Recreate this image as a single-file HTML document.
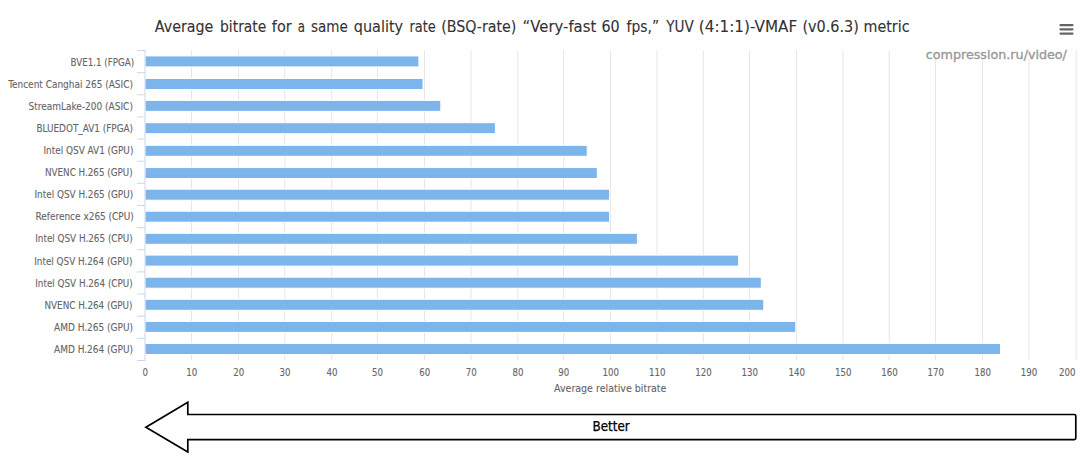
<!DOCTYPE html>
<html><head><meta charset="utf-8"><title>Average bitrate chart</title>
<style>
html,body{margin:0;padding:0;background:#fff;width:1080px;height:456px;overflow:hidden}
svg{display:block}
.cl{font-family:"DejaVu Sans Condensed","DejaVu Sans",sans-serif;font-stretch:condensed;font-size:9.9px;fill:#666;stroke:#666;stroke-width:0.1px}
.xl{font-family:"DejaVu Sans Condensed","DejaVu Sans",sans-serif;font-stretch:condensed;font-size:9.6px;fill:#666;stroke:#666;stroke-width:0.1px}
.xt{font-family:"DejaVu Sans",sans-serif;font-size:9.7px;fill:#666;stroke:#666;stroke-width:0.1px}
.tt{font-family:"DejaVu Sans",sans-serif;font-size:15.0px;fill:#333;stroke:#333;stroke-width:0.1px}
.cr{font-family:"DejaVu Sans",sans-serif;font-size:12.8px;fill:#999;stroke:#999;stroke-width:0.35px}
.bt{font-family:"DejaVu Sans Condensed","DejaVu Sans",sans-serif;font-stretch:condensed;font-size:13.5px;fill:#000;stroke:#000;stroke-width:0.25px}
</style></head>
<body><svg width="1080" height="456" viewBox="0 0 1080 456">
<path d="M191.50 50.5V360 M238.50 50.5V360 M284.80 50.5V360 M331.70 50.5V360 M377.40 50.5V360 M424.50 50.5V360 M471.00 50.5V360 M517.80 50.5V360 M563.60 50.5V360 M610.50 50.5V360 M657.00 50.5V360 M703.30 50.5V360 M749.50 50.5V360 M796.60 50.5V360 M843.00 50.5V360 M889.20 50.5V360 M935.50 50.5V360 M982.50 50.5V360 M1028.90 50.5V360 M1076.20 50.5V360" stroke="#e6e6e6" stroke-width="1" fill="none"/>
<rect x="145" y="55.90" width="273.9" height="11" fill="#7cb5ec" stroke="#fff" stroke-width="1"/>
<rect x="145" y="78.50" width="278.0" height="11" fill="#7cb5ec" stroke="#fff" stroke-width="1"/>
<rect x="145" y="100.40" width="295.8" height="11" fill="#7cb5ec" stroke="#fff" stroke-width="1"/>
<rect x="145" y="122.70" width="350.4" height="11" fill="#7cb5ec" stroke="#fff" stroke-width="1"/>
<rect x="145" y="145.30" width="442.2" height="11" fill="#7cb5ec" stroke="#fff" stroke-width="1"/>
<rect x="145" y="167.55" width="452.3" height="11" fill="#7cb5ec" stroke="#fff" stroke-width="1"/>
<rect x="145" y="189.20" width="464.6" height="11" fill="#7cb5ec" stroke="#fff" stroke-width="1"/>
<rect x="145" y="211.20" width="464.6" height="11" fill="#7cb5ec" stroke="#fff" stroke-width="1"/>
<rect x="145" y="233.30" width="492.4" height="11" fill="#7cb5ec" stroke="#fff" stroke-width="1"/>
<rect x="145" y="255.10" width="593.6" height="11" fill="#7cb5ec" stroke="#fff" stroke-width="1"/>
<rect x="145" y="277.20" width="616.3" height="11" fill="#7cb5ec" stroke="#fff" stroke-width="1"/>
<rect x="145" y="299.30" width="618.8" height="11" fill="#7cb5ec" stroke="#fff" stroke-width="1"/>
<rect x="145" y="321.40" width="650.8" height="11" fill="#7cb5ec" stroke="#fff" stroke-width="1"/>
<rect x="145" y="343.50" width="855.5" height="11" fill="#7cb5ec" stroke="#fff" stroke-width="1"/>
<path d="M145 50.0V361.002 M137 50.50H145 M137 72.64H145 M137 94.79H145 M137 116.93H145 M137 139.07H145 M137 161.22H145 M137 183.36H145 M137 205.50H145 M137 227.64H145 M137 249.79H145 M137 271.93H145 M137 294.07H145 M137 316.22H145 M137 338.36H145 M137 360.50H145" stroke="#ccd6eb" stroke-width="1" fill="none"/>
<g class="cl"><text x="70.5" y="65.60" textLength="63.59" lengthAdjust="spacingAndGlyphs">BVE1.1 (FPGA)</text><text x="8.24" y="87.70" textLength="124.67" lengthAdjust="spacingAndGlyphs">Tencent Canghai 265 (ASIC)</text><text x="28.48" y="109.80" textLength="104.44" lengthAdjust="spacingAndGlyphs">StreamLake-200 (ASIC)</text><text x="36.5" y="131.90" textLength="96.52" lengthAdjust="spacingAndGlyphs">BLUEDOT_AV1 (FPGA)</text><text x="43.48" y="154.00" textLength="89.9" lengthAdjust="spacingAndGlyphs">Intel QSV AV1 (GPU)</text><text x="45.0" y="176.10" textLength="87.6" lengthAdjust="spacingAndGlyphs">NVENC H.265 (GPU)</text><text x="34.5" y="198.20" textLength="98.62" lengthAdjust="spacingAndGlyphs">Intel QSV H.265 (GPU)</text><text x="35.5" y="220.30" textLength="98.33" lengthAdjust="spacingAndGlyphs">Reference x265 (CPU)</text><text x="35.22" y="242.40" textLength="97.52" lengthAdjust="spacingAndGlyphs">Intel QSV H.265 (CPU)</text><text x="34.22" y="264.50" textLength="98.21" lengthAdjust="spacingAndGlyphs">Intel QSV H.264 (GPU)</text><text x="35.22" y="286.60" textLength="97.52" lengthAdjust="spacingAndGlyphs">Intel QSV H.264 (CPU)</text><text x="44.48" y="308.70" textLength="88.0" lengthAdjust="spacingAndGlyphs">NVENC H.264 (GPU)</text><text x="54.0" y="330.80" textLength="79.01" lengthAdjust="spacingAndGlyphs">AMD H.265 (GPU)</text><text x="54.0" y="352.90" textLength="79.01" lengthAdjust="spacingAndGlyphs">AMD H.264 (GPU)</text></g>
<g class="xl" text-anchor="middle"><text x="145.3" y="376.4">0</text><text x="191.7" y="376.4">10</text><text x="238.7" y="376.4">20</text><text x="285.0" y="376.4">30</text><text x="331.9" y="376.4">40</text><text x="377.6" y="376.4">50</text><text x="424.7" y="376.4">60</text><text x="471.2" y="376.4">70</text><text x="518.0" y="376.4">80</text><text x="563.8" y="376.4">90</text><text x="610.7" y="376.4">100</text><text x="657.2" y="376.4">110</text><text x="703.5" y="376.4">120</text><text x="749.7" y="376.4">130</text><text x="796.8" y="376.4">140</text><text x="843.2" y="376.4">150</text><text x="889.4" y="376.4">160</text><text x="935.7" y="376.4">170</text><text x="982.7" y="376.4">180</text><text x="1029.1" y="376.4">190</text></g>
<text class="xl" x="1075.6" y="376.4" text-anchor="end">200</text>
<text class="xt" x="554.0" y="391.9" textLength="112.4" lengthAdjust="spacingAndGlyphs">Average relative bitrate</text>
<text class="tt" y="31.6"><tspan x="154.8" textLength="58.58" lengthAdjust="spacingAndGlyphs">Average</tspan> <tspan x="220.0" textLength="46.37" lengthAdjust="spacingAndGlyphs">bitrate</tspan> <tspan x="271.8" textLength="19.84" lengthAdjust="spacingAndGlyphs">for</tspan> <tspan x="297.8" textLength="7.26" lengthAdjust="spacingAndGlyphs">a</tspan> <tspan x="311.0" textLength="36.87" lengthAdjust="spacingAndGlyphs">same</tspan> <tspan x="353.8" textLength="49.27" lengthAdjust="spacingAndGlyphs">quality</tspan> <tspan x="409.4" textLength="26.3" lengthAdjust="spacingAndGlyphs">rate</tspan> <tspan x="441.2" textLength="75.19" lengthAdjust="spacingAndGlyphs">(BSQ-rate)</tspan> <tspan x="522.6" textLength="73.66" lengthAdjust="spacingAndGlyphs">“Very-fast</tspan> <tspan x="601.4" textLength="18.19" lengthAdjust="spacingAndGlyphs">60</tspan> <tspan x="626.6" textLength="32.54" lengthAdjust="spacingAndGlyphs">fps,”</tspan> <tspan x="666.2" textLength="27.57" lengthAdjust="spacingAndGlyphs">YUV</tspan> <tspan x="698.8" textLength="98.41" lengthAdjust="spacingAndGlyphs">(4:1:1)-VMAF</tspan> <tspan x="802.4" textLength="56.42" lengthAdjust="spacingAndGlyphs">(v0.6.3)</tspan> <tspan x="863.6" textLength="45.95" lengthAdjust="spacingAndGlyphs">metric</tspan></text>
<rect x="922" y="44" width="148" height="14.6" fill="#fff"/>
<text class="cr" x="925.76" y="59" textLength="141.15" lengthAdjust="spacingAndGlyphs">compression.ru/video/</text>
<path d="M1060.5 25.15H1072.5M1060.5 29.35H1072.5M1060.5 33.56H1072.5" stroke="#666" stroke-width="2.2" stroke-linecap="round" fill="none"/>
<path d="M145.9 427.2L187.8 402.2V414.5H1074.3Q1075.8 414.5 1075.8 416V438.1Q1075.8 439.6 1074.3 439.6H187.8V452.1Z" fill="#fff" stroke="#000" stroke-width="1.7" stroke-linejoin="miter"/>
<text class="bt" x="592.48" y="430.6" textLength="37.2" lengthAdjust="spacingAndGlyphs">Better</text>
</svg></body></html>
